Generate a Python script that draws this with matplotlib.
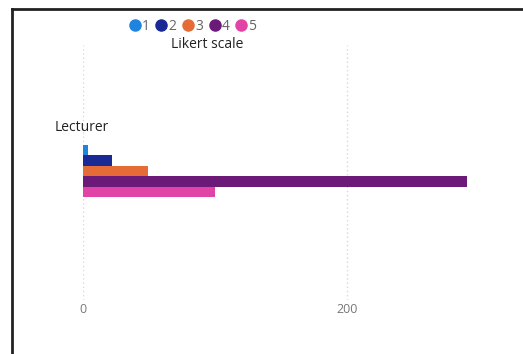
import matplotlib
matplotlib.use("Agg")
import matplotlib.pyplot as plt
from matplotlib.lines import Line2D

# data
category = "Lecturer"
levels = ["1", "2", "3", "4", "5"]
counts = [4, 22, 49, 291, 100]
colors = ["#1F84E0", "#1A2A94", "#E66C37", "#6B1A78", "#E044A7"]
xticks = [0, 200]

plt.rcParams['font.family'] = ['Open Sans', 'DejaVu Sans']

W, H = 523, 354
fig = plt.figure(figsize=(W / 100, H / 100), dpi=100)

# axes in pixel coords: left 83, right 479, top 45, bottom 300
ax = fig.add_axes([83 / W, 1 - 300 / H, (479 - 83) / W, (300 - 45) / H])

bh = 0.105
for i, (lv, c, col) in enumerate(zip(levels, counts, colors)):
    ax.barh((2 - i) * bh, c, height=bh, color=col, zorder=3)

ax.set_xlim(0, 300)
ax.set_ylim(-1.29, 1.26)
ax.set_yticks([])
ax.set_xticks(xticks)
ax.set_xticklabels([str(t) for t in xticks], color="#777777", fontsize=9)
ax.tick_params(axis="x", length=0, pad=2)
for s in ax.spines.values():
    s.set_visible(False)
for t in xticks:
    ax.axvline(t, color="#d8d8d8", lw=1, ls=(0, (1, 2)), zorder=1)

fig.text(55 / W, 1 - 127 / H, category, fontsize=10, color="#222222", va="center")

handles = [Line2D([], [], marker="o", ls="", color=col, markersize=8) for col in colors]
leg = fig.legend(handles, levels, loc="center", bbox_to_anchor=(193 / W, 1 - 26 / H),
                 ncol=5, frameon=False, handlelength=0.7, handletextpad=0.15,
                 columnspacing=0.5, fontsize=10, labelcolor="#666666", borderpad=0)
fig.text(207 / W, 1 - 45 / H, "Likert scale", fontsize=10, color="#222222", ha="center", va="center")

# outer frame (only top/left visible)
fig.add_artist(plt.Line2D([12 / W, 1], [1 - 9 / H, 1 - 9 / H], color="#222222", lw=2))
fig.add_artist(plt.Line2D([12 / W, 12 / W], [0, 1 - 9 / H], color="#222222", lw=2))

fig.savefig("out.png", dpi=100)
